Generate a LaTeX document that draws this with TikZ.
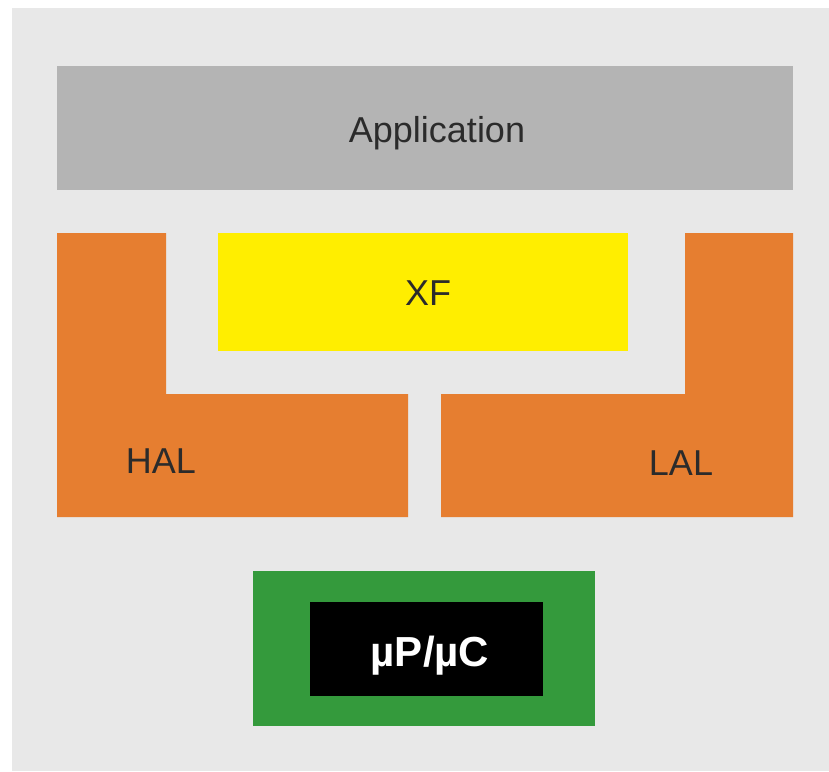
\documentclass[tikz,border=0pt]{standalone}
\usepackage{fontspec}
\setmainfont{Liberation Sans}
\definecolor{panelgray}{HTML}{E8E8E8}
\definecolor{appgray}{HTML}{B4B4B4}
\definecolor{layerorange}{HTML}{E67E30}
\definecolor{xfyellow}{HTML}{FFEE00}
\definecolor{chipgreen}{HTML}{349A3C}
\definecolor{labeltext}{HTML}{2B2B2B}
\tikzset{
  lbl/.style={anchor=base, inner sep=0pt, text=labeltext, font=\fontsize{36}{40}\selectfont},
  chiplbl/.style={anchor=base, inner sep=0pt, text=white, font=\fontsize{42}{46}\selectfont\bfseries}
}
\begin{document}
\begin{tikzpicture}[x=1pt,y=-1pt]
\useasboundingbox (0,0) rectangle (829,771);
\fill[white] (0,0) rectangle (829,771);
\fill[panelgray] (12,8) rectangle (829,771);
% Application
\fill[appgray] (57,66) rectangle (793,190);
% XF
\fill[xfyellow] (218,233) rectangle (628,351);
% HAL L-shape
\fill[layerorange] (57,233) -- (166,233) -- (166,394) -- (408,394) -- (408,517) -- (57,517) -- cycle;
% LAL L-shape
\fill[layerorange] (685,233) -- (793,233) -- (793,517) -- (441,517) -- (441,394) -- (685,394) -- cycle;
% chip
\fill[chipgreen] (253,571) rectangle (595,726);
\fill[black] (310,602) rectangle (543,696);
% labels
\node[lbl] (app) at (437,142) {Application};
\node[lbl] (xf) at (428,305) {XF};
\node[lbl] (hal) at (161,473) {HAL};
\node[lbl] (lal) at (681,475) {LAL};
\node[chiplbl] (chip) at (430,666) {µP/µC};
\end{tikzpicture}
\end{document}
